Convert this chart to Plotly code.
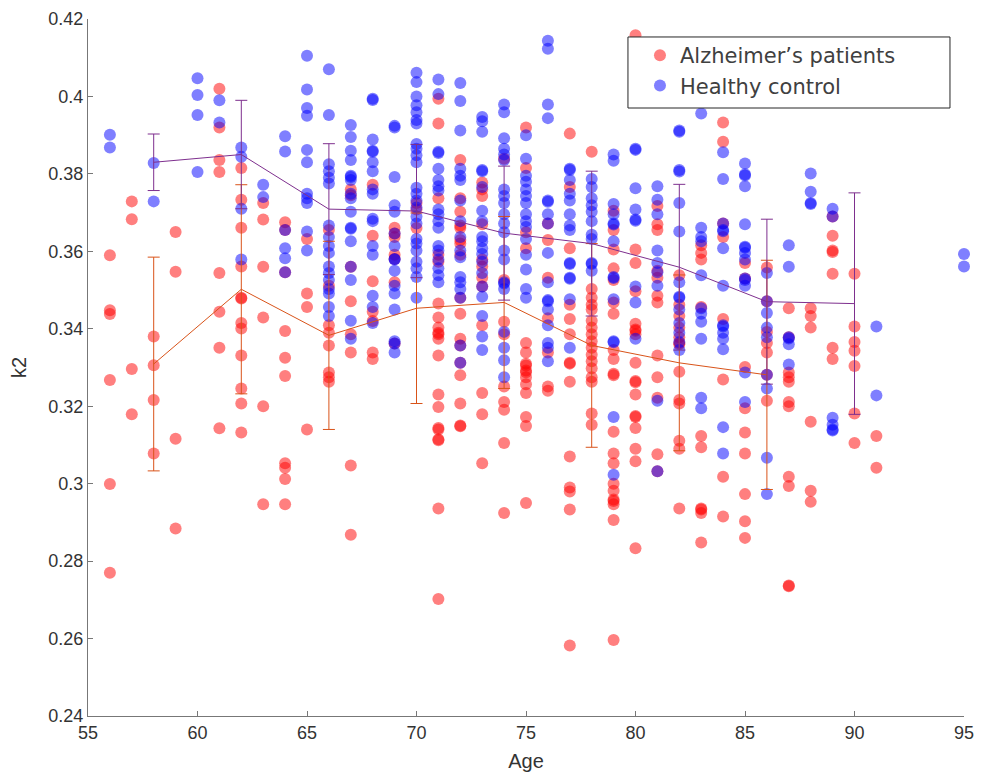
import plotly.graph_objects as go

# ---------------- data ----------------
ad_ages = [56, 57, 58, 59, 61, 62, 63, 64, 65, 66, 67, 68, 69, 70, 71, 72, 73, 74, 75,
           76, 77, 78, 79, 80, 81, 82, 83, 84, 85, 86, 87, 88, 89, 90, 91]
ad_k2 = [
    [0.359, 0.3448, 0.3438, 0.3268, 0.2999, 0.2770],
    [0.3729, 0.3683, 0.3296, 0.3179],
    [0.338, 0.3306, 0.3216, 0.3078],
    [0.365, 0.3547, 0.3116, 0.2884],
    [0.402, 0.392, 0.3836, 0.3805, 0.3544, 0.3444, 0.3351, 0.3143],
    [0.3815, 0.3733, 0.3661, 0.3561, 0.348, 0.3478, 0.3415, 0.3401, 0.3331, 0.3246, 0.3207, 0.3132],
    [0.3725, 0.3682, 0.356, 0.3429, 0.32, 0.2947],
    [0.3675, 0.3655, 0.3546, 0.3394, 0.3325, 0.3278, 0.3053, 0.3041, 0.3012, 0.2947],
    [0.3632, 0.3491, 0.3456, 0.314],
    [0.3655, 0.3511, 0.3409, 0.339, 0.3357, 0.3287, 0.3275, 0.3263],
    [0.376, 0.3745, 0.356, 0.3471, 0.3386, 0.3339, 0.3047, 0.2868],
    [0.3772, 0.364, 0.3523, 0.3444, 0.342, 0.3339, 0.3322],
    [0.3661, 0.3646, 0.3637, 0.3591, 0.358, 0.352, 0.3362],
    [0.3725, 0.3708, 0.366],
    [0.3994, 0.393, 0.3737, 0.3591, 0.3573, 0.3465, 0.3429, 0.3403, 0.339, 0.3386, 0.3374,
     0.3331, 0.323, 0.3198, 0.3144, 0.314, 0.3115, 0.3112, 0.2936, 0.2702],
    [0.3836, 0.3737, 0.3702, 0.3667, 0.366, 0.3629, 0.362, 0.3591, 0.348, 0.3439, 0.3374,
     0.3357, 0.3312, 0.328, 0.3207, 0.315, 0.3148],
    [0.3778, 0.376, 0.3743, 0.367, 0.3579, 0.3561, 0.3532, 0.3509, 0.3409, 0.3234, 0.3179, 0.3053],
    [0.3839, 0.3526, 0.3418, 0.3386, 0.3251, 0.3211, 0.3191, 0.3105, 0.2924],
    [0.392, 0.3815, 0.3649, 0.3608, 0.3363, 0.3339, 0.331, 0.3305, 0.3292, 0.3288, 0.3275,
     0.3257, 0.3234, 0.3172, 0.3149, 0.295],
    [0.3672, 0.3629, 0.3532, 0.3427, 0.3339, 0.3251, 0.324],
    [0.3904, 0.3766, 0.3608, 0.3462, 0.3425, 0.3386, 0.3312, 0.331, 0.3263, 0.307, 0.299,
     0.298, 0.2933, 0.2582],
    [0.3857, 0.3503, 0.348, 0.3462, 0.345, 0.3421, 0.3403, 0.3386, 0.3368, 0.3351, 0.3333,
     0.3316, 0.3298, 0.3275, 0.3263, 0.3181, 0.3152],
    [0.3705, 0.3655, 0.3605, 0.3556, 0.3526, 0.3468, 0.3439, 0.3345, 0.3322, 0.3284, 0.328,
     0.3134, 0.3078, 0.3053, 0.3, 0.2982, 0.2959, 0.2955, 0.2947, 0.2906, 0.2596],
    [0.4158, 0.3605, 0.357, 0.3497, 0.3413, 0.3398, 0.3395, 0.3386, 0.3312, 0.3265, 0.3262,
     0.323, 0.3175, 0.3172, 0.3144, 0.309, 0.3058, 0.2833],
    [0.3717, 0.367, 0.3655, 0.355, 0.3532, 0.3485, 0.3468, 0.3331, 0.3275, 0.3222, 0.3076, 0.3032],
    [0.3538, 0.3462, 0.3433, 0.3403, 0.3378, 0.3363, 0.336, 0.3289, 0.3216, 0.3207, 0.3111,
     0.309, 0.2936],
    [0.3616, 0.3596, 0.3579, 0.3456, 0.3123, 0.3094, 0.2936, 0.2933, 0.2924, 0.2848],
    [0.3933, 0.3883, 0.3672, 0.3637, 0.3425, 0.3269, 0.3018, 0.2915],
    [0.357, 0.353, 0.3301, 0.3195, 0.3132, 0.3078, 0.2973, 0.2903, 0.286],
    [0.3558, 0.3471, 0.3392, 0.3363, 0.3339, 0.3281, 0.3214],
    [0.3453, 0.3378, 0.3287, 0.3275, 0.3263, 0.3211, 0.32, 0.3018, 0.2994, 0.2737, 0.2735],
    [0.3453, 0.3433, 0.3403, 0.316, 0.2982, 0.2953],
    [0.369, 0.364, 0.3602, 0.3598, 0.3542, 0.3351, 0.3322],
    [0.3542, 0.3406, 0.3366, 0.3343, 0.3304, 0.3181, 0.3105],
    [0.3123, 0.3041],
]

hc_ages = [56, 58, 60, 61, 62, 63, 64, 65, 66, 67, 68, 69, 70, 71, 72, 73, 74, 75, 76,
           77, 78, 79, 80, 81, 82, 83, 84, 85, 86, 87, 88, 89, 91, 95]
hc_k2 = [
    [0.3901, 0.3868],
    [0.3828, 0.3729],
    [0.4047, 0.4004, 0.3952, 0.3805],
    [0.399, 0.3933],
    [0.3868, 0.3844, 0.371, 0.3579],
    [0.3772, 0.374],
    [0.3897, 0.3858, 0.3655, 0.3608, 0.3582, 0.3546],
    [0.4105, 0.4018, 0.397, 0.395, 0.3862, 0.383, 0.3749, 0.3737, 0.3725, 0.3651, 0.3602],
    [0.407, 0.3952, 0.3825, 0.3807, 0.379, 0.3775, 0.3667, 0.3637, 0.3614, 0.3596, 0.3561,
     0.3544, 0.3526, 0.3503, 0.3491, 0.3456, 0.3433],
    [0.3926, 0.3895, 0.386, 0.3836, 0.3795, 0.3792, 0.3784, 0.3749, 0.3737, 0.3702, 0.3661,
     0.3658, 0.3626, 0.356, 0.3526, 0.3421, 0.3374],
    [0.3994, 0.3991, 0.3889, 0.386, 0.3857, 0.383, 0.3807, 0.376, 0.3749, 0.3684, 0.3678,
     0.3614, 0.3591, 0.3485, 0.3456, 0.3415],
    [0.3924, 0.392, 0.3792, 0.3719, 0.3702, 0.3646, 0.3614, 0.358, 0.3579, 0.355, 0.3511,
     0.3491, 0.345, 0.3368, 0.3362, 0.3339],
    [0.4061, 0.4037, 0.4, 0.3977, 0.3959, 0.3939, 0.393, 0.3877, 0.3865, 0.3848, 0.383,
     0.3764, 0.3749, 0.3731, 0.3713, 0.369, 0.3672, 0.3632, 0.362, 0.3602, 0.3573, 0.3556,
     0.3534, 0.348],
    [0.4044, 0.4006, 0.3857, 0.3854, 0.3813, 0.3784, 0.3768, 0.3757, 0.3708, 0.3696, 0.3678,
     0.3661, 0.3614, 0.3602, 0.3579, 0.3556, 0.3538, 0.352],
    [0.4035, 0.3988, 0.3912, 0.3813, 0.3795, 0.3784, 0.3731, 0.3678, 0.3637, 0.3602, 0.3585,
     0.3534, 0.352, 0.3503, 0.348, 0.3357, 0.3312],
    [0.3947, 0.3936, 0.3909, 0.381, 0.3807, 0.3766, 0.3705, 0.3678, 0.3637, 0.3626, 0.3608,
     0.3593, 0.3573, 0.3544, 0.3509, 0.3483, 0.3433, 0.338, 0.3345],
    [0.3979, 0.3959, 0.3892, 0.3865, 0.385, 0.3836, 0.376, 0.3743, 0.3725, 0.3696, 0.3672,
     0.3649, 0.3602, 0.3579, 0.352, 0.3517, 0.3503, 0.3392, 0.3351, 0.3319, 0.3275],
    [0.39, 0.3839, 0.3795, 0.378, 0.376, 0.3743, 0.3725, 0.3696, 0.3678, 0.3663, 0.3632,
     0.3591, 0.3553, 0.3503, 0.348],
    [0.4144, 0.4123, 0.3979, 0.3944, 0.3731, 0.3728, 0.3696, 0.3672, 0.3596, 0.352, 0.3474,
     0.3471, 0.345, 0.3409, 0.3363, 0.3351, 0.3316],
    [0.3813, 0.381, 0.3784, 0.3749, 0.3731, 0.3696, 0.3667, 0.3655, 0.357, 0.3567, 0.3532,
     0.3529, 0.3476, 0.3351],
    [0.3787, 0.3766, 0.3737, 0.3719, 0.3702, 0.3678, 0.3643, 0.3632, 0.357, 0.3567, 0.355],
    [0.385, 0.3834, 0.3722, 0.3696, 0.3672, 0.3669, 0.3626, 0.3534, 0.3531, 0.3476, 0.3368,
     0.3365, 0.3172, 0.3023],
    [0.3865, 0.3862, 0.3763, 0.3708, 0.3682, 0.3679, 0.3509, 0.3468, 0.3374],
    [0.3768, 0.3733, 0.3696, 0.3602, 0.357, 0.3546, 0.3511, 0.3214, 0.3032],
    [0.3912, 0.3909, 0.381, 0.3806, 0.3725, 0.3651, 0.352, 0.3483, 0.348, 0.345, 0.3415,
     0.339, 0.3366, 0.3345],
    [0.3956, 0.3661, 0.3637, 0.3626, 0.3538, 0.3453, 0.3439, 0.3418, 0.3374, 0.3222, 0.3195],
    [0.3856, 0.3787, 0.3672, 0.3655, 0.3652, 0.3608, 0.3511, 0.3409, 0.3406, 0.339, 0.3374,
     0.3347, 0.3146, 0.3078],
    [0.3827, 0.3799, 0.3796, 0.3768, 0.367, 0.3612, 0.3609, 0.3596, 0.3579, 0.353, 0.3526,
     0.3511, 0.3287, 0.3211],
    [0.3544, 0.3471, 0.3441, 0.3403, 0.3378, 0.3281, 0.3246, 0.3067, 0.2973],
    [0.3616, 0.356, 0.3378, 0.3375, 0.336, 0.3308],
    [0.3801, 0.3754, 0.3725, 0.3722],
    [0.371, 0.369, 0.317, 0.3152, 0.314, 0.3137],
    [0.3406, 0.3228],
    [0.3593, 0.3561],
]

bin_ages = [58, 62, 66, 70, 74, 78, 82, 86, 90]
ad_mean = [0.3309, 0.3502, 0.3383, 0.3453, 0.3468, 0.3357, 0.3312, 0.3281]
ad_sd = [0.0276, 0.0270, 0.0243, 0.0246, 0.0222, 0.0263, 0.0227, 0.0296]
hc_mean = [0.3830, 0.3850, 0.3709, 0.3704, 0.3647, 0.3620, 0.3559, 0.3470, 0.3465]
hc_sd = [0.0073, 0.0140, 0.0169, 0.0172, 0.0173, 0.0187, 0.0214, 0.0213, 0.0286]

x_ticks = [55, 60, 65, 70, 75, 80, 85, 90, 95]
y_ticks = [0.24, 0.26, 0.28, 0.30, 0.32, 0.34, 0.36, 0.38, 0.40, 0.42]
y_tick_text = ["0.24", "0.26", "0.28", "0.3", "0.32", "0.34", "0.36", "0.38", "0.4", "0.42"]


def flatten(ages, groups):
    xs, ys = [], []
    for a, vals in zip(ages, groups):
        for v in vals:
            xs.append(a)
            ys.append(v)
    return xs, ys


ad_x, ad_y = flatten(ad_ages, ad_k2)
hc_x, hc_y = flatten(hc_ages, hc_k2)

TXT = "#333333"
AXC = "#777777"
fig = go.Figure()
fig.add_trace(go.Scatter(
    x=ad_x, y=ad_y, mode="markers", name="Alzheimer’s patients", cliponaxis=False,
    marker=dict(size=12, color="rgba(255,0,0,0.5)", line=dict(width=0)),
))
fig.add_trace(go.Scatter(
    x=hc_x, y=hc_y, mode="markers", name="Healthy control", cliponaxis=False,
    marker=dict(size=12, color="rgba(0,0,255,0.5)", line=dict(width=0)),
))
fig.add_trace(go.Scatter(
    x=bin_ages[:len(ad_mean)], y=ad_mean, mode="lines", showlegend=False,
    line=dict(color="#D95319", width=1),
    error_y=dict(type="data", array=ad_sd, visible=True, color="#D95319", thickness=1, width=6),
))
fig.add_trace(go.Scatter(
    x=bin_ages, y=hc_mean, mode="lines", showlegend=False,
    line=dict(color="#7E2F8E", width=1),
    error_y=dict(type="data", array=hc_sd, visible=True, color="#7E2F8E", thickness=1, width=6),
))

# legend frame (white box with dark border), legend entries drawn on top
fig.add_shape(
    type="rect", xref="paper", yref="paper", x0=0.6164, x1=0.984, y0=0.8723, y1=0.9742,
    fillcolor="white", line=dict(color="#262626", width=1), layer="above",
)

# the page body adds an 8 px margin, so the figure is sized/placed to compensate
fig.update_layout(
    width=968, height=764,
    margin=dict(l=80, r=12, t=11, b=56),
    paper_bgcolor="white", plot_bgcolor="white",
    font=dict(family="Liberation Sans, Arial, sans-serif", color=TXT, size=18),
    showlegend=True,
    legend=dict(
        x=0.6301, y=0.977, xanchor="left", yanchor="top",
        bgcolor="rgba(0,0,0,0)", borderwidth=0,
        font=dict(family="DejaVu Sans, sans-serif", size=21, color="#404040"),
        itemsizing="constant", tracegroupgap=0,
    ),
    xaxis=dict(
        range=[55, 95], tickmode="array", tickvals=x_ticks, automargin=False,
        ticks="inside", ticklen=5, tickcolor=AXC, showgrid=False, zeroline=False,
        showline=True, linecolor=AXC, linewidth=1, mirror=False,
        title=dict(text="Age", font=dict(size=20), standoff=14),
        tickfont=dict(size=18),
    ),
    yaxis=dict(
        range=[0.24, 0.42], tickmode="array", tickvals=y_ticks, ticktext=y_tick_text,
        automargin=False,
        ticks="inside", ticklen=5, tickcolor=AXC, showgrid=False, zeroline=False,
        showline=True, linecolor=AXC, linewidth=1, mirror=False,
        title=dict(text="k2", font=dict(size=20), standoff=18),
        tickfont=dict(size=18),
    ),
)

fig.write_html("out.html")
